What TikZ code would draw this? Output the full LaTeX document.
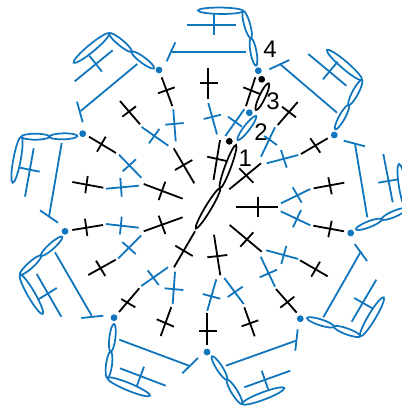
\documentclass[tikz,border=0pt]{standalone}
\usepackage{fontspec}
\setmainfont{Liberation Sans}
\definecolor{chartblue}{HTML}{0F75BC}
\tikzset{
  blk/.style={draw=black,line width=1.35pt},
  blu/.style={draw=chartblue,line width=1.35pt},
  lens/.style={line width=1.3pt},
  num/.style={font=\fontsize{18}{18}\selectfont,inner sep=0pt,text=black}
}
% stem and crossbar of one stitch: style, stem x1 y1 x2 y2, bar x1 y1 x2 y2
\newcommand\stitch[9]{\draw[#1] (#2,#3) -- (#4,#5); \draw[#1] (#6,#7) -- (#8,#9);}
% chain oval between two tips: style, x1 y1 x2 y2, half width
\newcommand\ovl[6]{%
  \pgfmathsetmacro\ovlang{atan2(#5-#3,#4-#2)}%
  \pgfmathsetmacro\ovllen{veclen(#4-#2,#5-#3)/2}%
  \pgfmathsetmacro\ovlmx{(#2+#4)/2}%
  \pgfmathsetmacro\ovlmy{(#3+#5)/2}%
  \draw[#1,lens,shift={(\ovlmx,\ovlmy)},rotate=-\ovlang] (0,0) ellipse [x radius=\ovllen,y radius=#6];}
\begin{document}
\begin{tikzpicture}[x=0.75pt,y=-0.75pt]
\useasboundingbox (0,0) rectangle (402,408);
\clip (0,0) rectangle (402,408);
% centre chain
\ovl{blk}{236}{145}{220}{188.3}{3}
\ovl{blk}{220}{188.3}{196}{228.3}{3}
\ovl{blu}{256}{116}{237.7}{140}{3}
\ovl{blk}{268.7}{83.3}{256}{110}{3}
% black dots and blue dots
\foreach \n/\x/\y in {k1/229.3/141.3,k2/261.7/79.3}
  \fill[black] (\x,\y) circle [radius=3.4] coordinate (\n);
\foreach \n/\x/\y in {d1/159/70,d2/82.7/133.7,d3/65/231.3,d4/114/317.7,d5/207/352,d6/300.3/318.7,d7/350.7/233,d8/334.3/135,d9/258.3/70.7,d10/249.3/112.7}
  \fill[chartblue] (\x,\y) circle [radius=3.4] coordinate (\n);
% labels
\node[num] (n1) at (245.3,158) {1};
\node[num] (n2) at (261,132) {2};
\node[num] (n3) at (273,101) {3};
\node[num] (n4) at (270,49) {4};
% inner stitches, black
\stitch{blk}{161.7}{77.3}{172.3}{106}{158}{93.3}{174.7}{87.3}
\stitch{blk}{173.7}{148.3}{194.3}{183.3}{175}{170}{192.3}{160}
\stitch{blk}{120}{101}{140}{124.3}{122.3}{116.7}{136}{106.3}
\stitch{blk}{89}{136.7}{116}{153}{97}{151.7}{105.7}{136.7}
\stitch{blk}{143.7}{184}{182.7}{198.7}{158.7}{200}{165.3}{181.7}
\stitch{blk}{72.3}{182}{103.3}{187.7}{85.3}{193.3}{87.7}{176}
\stitch{blk}{72.3}{230}{103}{225}{87.3}{236}{85}{218.7}
\stitch{blk}{143.7}{231.3}{182.7}{217.3}{165.3}{234}{158.7}{215.7}
\stitch{blk}{88.3}{275}{115.7}{259.7}{105.3}{276}{96}{260.7}
\stitch{blk}{119}{312}{139.3}{288.3}{121.3}{299}{135.3}{307.3}
\stitch{blk}{174}{267.3}{195}{231.3}{175.3}{245.7}{192.7}{256}
\stitch{blk}{160.7}{336}{171.3}{307}{156.7}{319.3}{174}{326.7}
\stitch{blk}{207.3}{313.3}{207.3}{344.7}{199}{330.7}{216.7}{330.7}
\stitch{blk}{214}{234.7}{220.3}{275.3}{207.3}{257.3}{227.3}{255}
\stitch{blk}{244.3}{307.3}{254.7}{336.3}{241.7}{326.3}{258.3}{320.3}
\stitch{blk}{276}{289}{296.7}{312.7}{280.3}{307.7}{294.3}{296.7}
\stitch{blk}{229.7}{225}{261.7}{251.7}{240.3}{246.7}{253.3}{232.3}
\stitch{blk}{300}{260.3}{327.7}{276.3}{311.3}{276.7}{320}{261.7}
\stitch{blk}{236}{207}{278}{207}{258}{196.7}{258}{217}
\stitch{blk}{313.3}{225.7}{344}{231.3}{328.3}{237.3}{331.7}{220.7}
\stitch{blk}{255.3}{77.3}{246}{106}{243.3}{87.3}{260}{94}
\stitch{blk}{220}{140}{213.5}{180}{207.2}{156.7}{226.5}{161}
\stitch{blk}{208.3}{68.3}{208.3}{99.3}{199.5}{82.7}{217.7}{82.7}
\stitch{blk}{229.3}{189.3}{261}{163.3}{239.3}{168.3}{253.3}{182.7}
\stitch{blk}{277.7}{125}{297.7}{102}{282}{106.7}{296}{117.3}
\stitch{blk}{301}{154}{327.7}{138.3}{310.3}{138.3}{320.3}{152.7}
\stitch{blk}{313.7}{188.3}{344.3}{182.7}{328.3}{177.3}{331.7}{194.3}
% inner stitches, blue
\stitch{blu}{173.3}{109.3}{175.7}{141.3}{165.3}{124.7}{183.7}{123}
\stitch{blu}{141.7}{127}{168.3}{145.7}{149}{143.3}{159.3}{129}
\stitch{blu}{119}{154.7}{141.3}{177.7}{122.7}{171.3}{136}{159.3}
\stitch{blu}{106}{188.7}{139}{185.7}{121.7}{196.7}{120.3}{178}
\stitch{blu}{106}{224}{138.7}{227.7}{120}{234.3}{121.7}{216.7}
\stitch{blu}{118.3}{258.3}{141.3}{235.3}{122.3}{242}{135.7}{254}
\stitch{blu}{141.3}{286}{168}{267.3}{147.7}{270.3}{158.7}{285}
\stitch{blu}{172.7}{304}{175}{271.7}{164.7}{288.3}{183.3}{290}
\stitch{blu}{207.3}{310.7}{216.3}{279.3}{202.7}{294}{220.3}{298.7}
\stitch{blu}{224.3}{278}{243.7}{304}{227.7}{297}{242.7}{286.7}
\stitch{blu}{260.7}{256.7}{275}{286.7}{259.7}{277.3}{277}{269.7}
\stitch{blu}{266.3}{250.3}{298.3}{259}{281.3}{264}{286.3}{246}
\stitch{blu}{280.7}{211.3}{310.3}{225.3}{293}{227.3}{301}{210}
\stitch{blu}{244.3}{109.3}{225.3}{136}{228}{116.7}{242}{126.7}
\stitch{blu}{208.3}{103}{217}{134.3}{203.7}{119}{221}{114.7}
\stitch{blu}{261}{156.7}{275}{127.3}{264.3}{136}{277}{145}
\stitch{blu}{266.7}{163.3}{298.3}{155}{281}{150}{286.7}{167.7}
\stitch{blu}{281}{203.3}{310.3}{189}{292.7}{187.3}{301.7}{202.7}
% outer groups: ovals, inner stitch, T
% upper left
\ovl{blu}{109.3}{33.3}{73.7}{62.7}{3.7}
\ovl{blu}{109.3}{33.3}{131.7}{51.7}{3}
\ovl{blu}{131.7}{51.7}{154}{68.3}{3}
\stitch{blu}{74.7}{81.3}{112.7}{50.3}{89.3}{55.7}{102}{71.7}
\stitch{blu}{137.3}{64}{80.7}{111}{77}{101.7}{82.7}{122.3}
% left
\ovl{blu}{21.3}{136.7}{49.3}{136.7}{3}
\ovl{blu}{49.3}{136.7}{77.3}{136}{3}
\ovl{blu}{21.3}{136.7}{12.7}{182.7}{3.7}
\stitch{blu}{33.7}{148.3}{25}{196.7}{20}{167.7}{39.7}{171.7}
\stitch{blu}{61.7}{143}{49}{216.7}{40}{210.3}{58}{222.7}
% lower left
\ovl{blu}{20}{274.7}{41}{255.7}{3}
\ovl{blu}{41}{255.7}{62.3}{236.7}{3}
\ovl{blu}{20}{274.7}{42.7}{314}{3.7}
\stitch{blu}{36.7}{274}{61.3}{316.7}{39}{299}{56.7}{288}
\stitch{blu}{55}{252.3}{91.7}{315.7}{81.3}{318}{103.3}{315.7}
% bottom left
\ovl{blu}{107.3}{378}{110.7}{351.7}{3}
\ovl{blu}{110.7}{351.7}{114}{324}{3}
\ovl{blu}{107.3}{378}{150}{395.7}{3.7}
\stitch{blu}{120}{368.3}{165.7}{385.7}{144}{366.7}{136.7}{386.3}
\stitch{blu}{119.3}{339.7}{189}{365.7}{198}{358}{182.3}{373.3}
% bottom right
\ovl{blu}{242}{404}{227}{379.7}{3}
\ovl{blu}{227}{379.7}{212}{356.3}{3}
\ovl{blu}{242}{404}{284.3}{388}{3.7}
\stitch{blu}{244.3}{387.3}{290.3}{370.7}{261.7}{370.7}{268.3}{389.7}
\stitch{blu}{226}{365.7}{296}{340.7}{297.7}{329.3}{295.3}{350.7}
% lower right
\ovl{blu}{360.3}{336.3}{334}{326.7}{3}
\ovl{blu}{334}{326.7}{307}{318}{3}
\ovl{blu}{360.3}{336.3}{383.7}{297.3}{3.7}
\stitch{blu}{351.7}{321.7}{376.3}{279.7}{354.3}{298}{373}{308.7}
\stitch{blu}{323.3}{317.3}{361}{251.3}{354.7}{244}{367}{261}
% right
\ovl{blu}{356}{229.3}{381.7}{219.3}{3}
\ovl{blu}{381.7}{219.3}{406.3}{208.7}{3}
\ovl{blu}{406.3}{208.7}{399}{164}{3.7}
\stitch{blu}{383.3}{154}{392.7}{202.3}{378.3}{182.7}{398.3}{179.3}
\stitch{blu}{355}{144}{367.3}{217.3}{343.7}{140.7}{365}{146.3}
% upper right
\ovl{blu}{362}{80}{348.7}{105}{3}
\ovl{blu}{348.7}{105}{335.3}{129.3}{3}
\ovl{blu}{362}{80}{327}{50}{3.7}
\stitch{blu}{308.3}{54}{346.3}{85.7}{337.7}{61.7}{323}{79.3}
\stitch{blu}{337}{112.7}{280.3}{64.3}{289.3}{60}{269.3}{69.3}
% top
\ovl{blu}{243.3}{11}{251}{38.3}{3}
\ovl{blu}{251}{38.3}{256}{65.7}{3}
\ovl{blu}{243.3}{11}{198}{10.5}{3.2}
\stitch{blu}{186.7}{25}{236}{25}{214}{13}{214}{35}
\stitch{blu}{172}{51.7}{246}{51.7}{175.3}{42.3}{166.7}{61.3}
\end{tikzpicture}
\end{document}
